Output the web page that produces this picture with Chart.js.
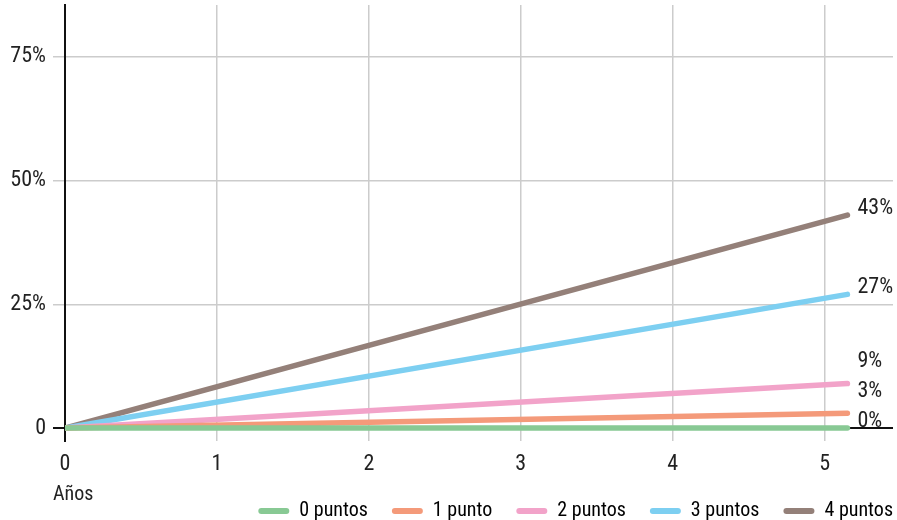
<!DOCTYPE html>
<html>
<head>
<meta charset="utf-8">
<script src="https://cdn.jsdelivr.net/npm/chart.js@4/dist/chart.umd.min.js"></script>
<style>
  html, body { margin: 0; padding: 0; background: #ffffff; }
  #wrap { width: 897px; height: 520px; position: relative; }
</style>
</head>
<body>
<div id="wrap"><canvas id="chart"></canvas></div>
<script>
// Growth over years for each number of points
const years = [0, 5.15];
const seriesNames = ['0 puntos', '1 punto', '2 puntos', '3 puntos', '4 puntos'];
const endValues = [0, 3, 9, 27, 43];
const endLabels = ['0%', '3%', '9%', '27%', '43%'];
const seriesColors = ['#88c994', '#f49a7a', '#f2a3c9', '#7dcff1', '#948079'];
const xTicks = [0, 1, 2, 3, 4, 5];
const yTicks = [0, 25, 50, 75];

const FONT = "'Roboto Condensed', 'Liberation Sans Narrow', 'DejaVu Sans Condensed', 'Arial Narrow', sans-serif";

const datasets = seriesNames.map((name, i) => ({
  label: name,
  data: years.map((yr, k) => ({ x: yr, y: k === 0 ? 0 : endValues[i] })),
  borderColor: seriesColors[i],
  backgroundColor: seriesColors[i],
  borderWidth: 5.5,
  borderCapStyle: 'round',
  pointRadius: 0,
  tension: 0
}));

// Value labels at the end of each line (spread apart so they never collide),
// plus the "Años" caption under the axis
const endLabelPlugin = {
  id: 'endLabels',
  afterLayout(chart) {
    // let the legend row end flush with the right edge of the plot
    const lg = chart.legend;
    if (lg) { lg.left += 24; lg.right += 24; }
  },
  afterDatasetsDraw(chart) {
    const ctx = chart.ctx;
    const minGap = 30;
    ctx.save();
    ctx.font = '22px ' + FONT;
    ctx.fillStyle = '#222222';
    ctx.textAlign = 'left';
    ctx.textBaseline = 'middle';
    const items = chart.data.datasets.map((ds, i) => {
      const meta = chart.getDatasetMeta(i);
      const last = meta.data[meta.data.length - 1];
      return { text: endLabels[i], x: last.x + 10, y: last.y - 7 };
    }).sort((a, b) => b.y - a.y);
    for (let k = 1; k < items.length; k++) {
      if (items[k - 1].y - items[k].y < minGap) items[k].y = items[k - 1].y - minGap;
    }
    items.forEach(it => ctx.fillText(it.text, it.x, it.y));
    const area = chart.chartArea;
    ctx.font = '20px ' + FONT;
    ctx.fillText('Años', area.left - 12, area.bottom + 54);
    ctx.restore();
  }
};

new Chart(document.getElementById('chart'), {
  type: 'line',
  data: { datasets },
  options: {
    responsive: true,
    maintainAspectRatio: false,
    animation: false,
    layout: { padding: { top: 5, right: 4, left: 0, bottom: -11 } },
    plugins: {
      tooltip: { enabled: false },
      legend: {
        position: 'bottom',
        align: 'end',
        labels: {
          font: { family: FONT, size: 20 },
          color: '#222222',
          boxWidth: 31,
          boxHeight: 6,
          useBorderRadius: true,
          borderRadius: 3,
          padding: 24,
          generateLabels(chart) {
            return chart.data.datasets.map((ds, i) => ({
              text: ds.label,
              fillStyle: ds.borderColor,
              strokeStyle: ds.borderColor,
              lineWidth: 0,
              borderRadius: 3,
              datasetIndex: i,
              hidden: false
            }));
          }
        }
      }
    },
    scales: {
      x: {
        type: 'linear',
        min: 0,
        max: 5.45,
        afterBuildTicks(scale) { scale.ticks = xTicks.map(v => ({ value: v })); },
        afterFit(scale) { scale.height = 36; },
        ticks: {
          font: { family: FONT, size: 22 },
          color: '#222222',
          padding: 10,
          callback: v => String(v)
        },
        grid: { color: '#cccccc', lineWidth: 1.5, drawTicks: false },
        border: { display: false }
      },
      y: {
        type: 'linear',
        min: -2.6,
        max: 85.4,
        afterBuildTicks(scale) { scale.ticks = yTicks.map(v => ({ value: v })); },
        afterFit(scale) {
          scale.width = 65;
          scale.paddingTop = 0;
          scale.paddingBottom = 0;
        },
        ticks: {
          font: { family: FONT, size: 22 },
          color: '#222222',
          padding: 7,
          callback: v => (v === 0 ? '0' : v + '%')
        },
        grid: {
          color: ctx => (ctx.tick && ctx.tick.value === 0 ? '#111111' : '#cccccc'),
          lineWidth: ctx => (ctx.tick && ctx.tick.value === 0 ? 2 : 1.5),
          tickLength: 12
        },
        border: { display: true, color: '#111111', width: 2 }
      }
    }
  },
  plugins: [endLabelPlugin]
});
</script>
</body>
</html>
